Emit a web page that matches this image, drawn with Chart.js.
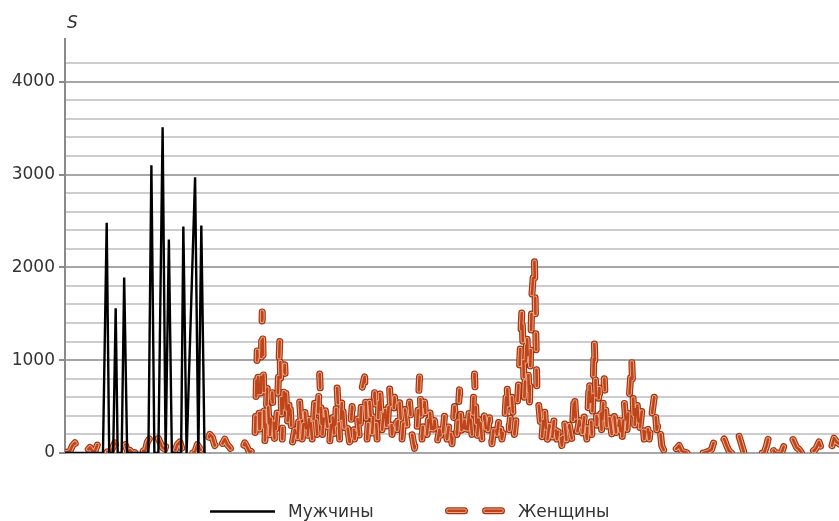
<!DOCTYPE html>
<html>
<head>
<meta charset="utf-8">
<script src="https://cdn.jsdelivr.net/npm/chart.js@4/dist/chart.umd.min.js"></script>
<style>
  html, body { margin: 0; padding: 0; background: #fff; }
  #wrap { position: relative; width: 839px; height: 521px; }
</style>
</head>
<body>
<div id="wrap"><canvas id="c" width="839" height="521"></canvas></div>
<script>
// Series names and axis text
const seriesNames = ['Мужчины', 'Женщины'];
const axisTitle = 'S';
const yTickLabels = [0, 1000, 2000, 3000, 4000];

// Men: sample positions and values
const menX = [0, 15.2, 16.7, 17.7, 19.3, 20.3, 21.1, 22.7, 23.7, 24.9,
              33.4, 34.6, 35.8, 37.4, 39.1, 40.3, 41.6, 42.8, 46.5, 47.4,
              48.7, 52.1, 53.4, 54.6, 55.9];
const menY = [0, 0, 2480, 0, 0, 1560, 0, 0, 1890, 0,
              0, 3100, 0, 0, 3510, 0, 2300, 0, 0, 2440,
              0, 2970, 0, 2450, 0];

// Women: one value per sample position 0, 1, 2, ...
const womenY = [
  0, 10, 20, 80, 110, 40, 10, 0, 0, 30,
  60, 20, 20, 90, 140, 60, 30, 10, 0, 50,
  110, 40, 10, 70, 100, 20, 30, 0, 0, 60,
  110, 30, 10, 120, 160, 90, 150, 180, 120, 60,
  40, 130, 100, 50, 20, 90, 120, 30, 10, 70,
  40, 0, 10, 90, 50, 10, 20, 120, 200, 170,
  80, 120, 30, 100, 150, 90, 60, 20, 20, 10,
  0, 40, 110, 60, 0, 30, 80, 1100, 150, 1520,
  100, 700, 150, 650, 100, 450, 1200, 150, 950, 300,
  600, 100, 250, 80, 550, 150, 480, 120, 450, 150,
  550, 200, 850, 150, 520, 300, 100, 450, 150, 700,
  150, 600, 200, 300, 120, 500, 150, 400, 150, 700,
  820, 150, 550, 200, 650, 150, 700, 250, 550, 200,
  700, 200, 600, 250, 550, 150, 500, 300, 550, 200,
  50, 250, 820, 150, 550, 200, 500, 150, 350, 100,
  250, 100, 400, 150, 350, 100, 500, 200, 680, 150,
  350, 150, 500, 200, 850, 150, 450, 150, 400, 150,
  380, 100, 350, 200, 400, 150, 300, 750, 250, 600,
  200, 450, 900, 1550, 600, 1300, 500, 1700, 2080, 700,
  450, 150, 500, 100, 300, 120, 400, 150, 300, 80,
  350, 100, 300, 150, 650, 200, 350, 150, 400, 150,
  800, 200, 1200, 300, 700, 200, 800, 250, 400, 200,
  400, 150, 350, 100, 550, 200, 600, 1000, 250, 600,
  200, 450, 150, 350, 150, 400, 600, 250, 350, 80,
  20, 60, 90, 40, 30, 50, 80, 20, 10, 0,
  20, 40, 60, 30, 10, 0, 0, 10, 20, 40,
  130, 90, 60, 120, 150, 80, 20, 0, 10, 60,
  180, 90, 0, 0, 10, 10, 5, 0, 10, 0,
  0, 80, 190, 100, 10, 0, 0, 0, 80, 150,
  200, 180, 120, 60, 40, 0, 0, 30, 90, 50,
  20, 60, 120, 40, 10, 0, 0, 60, 160, 120,
  100
];

const FONT = '"DejaVu Sans", sans-serif';
const TEXT = '#333333';
const MAJOR_GRID = '#a6a6a6';
const MINOR_GRID = '#cdcdd1';

// Tube-like dashed stroke: dark outline, light ring, darker core
const tubeLayers = [
  { width: 7, color: '#a8340e' },
  { width: 4.6, color: '#e9a888' },
  { width: 2.6, color: '#c0441a' }
];
const tubeDash = [16, 20];

const menPoints = menX.map((x, i) => ({ x, y: menY[i] }));
const womenPoints = womenY.map((y, i) => ({ x: i, y }));

const datasets = [{
  label: seriesNames[0],
  data: menPoints,
  borderColor: '#000000',
  borderWidth: 2.4,
  pointRadius: 0,
  tension: 0,
  order: 0
}];
tubeLayers.forEach((layer, k) => {
  datasets.push({
    label: seriesNames[1],
    data: womenPoints,
    borderColor: layer.color,
    borderWidth: layer.width,
    borderDash: tubeDash,
    borderCapStyle: 'round',
    borderJoinStyle: 'round',
    pointRadius: 0,
    tension: 0,
    order: tubeLayers.length - k
  });
});

function drawTube(ctx, x1, y, x2) {
  tubeLayers.forEach(layer => {
    ctx.beginPath();
    ctx.lineCap = 'round';
    ctx.lineWidth = layer.width;
    ctx.strokeStyle = layer.color;
    ctx.moveTo(x1, y);
    ctx.lineTo(x2, y);
    ctx.stroke();
  });
}

// Axis title and legend drawn onto the canvas
const decorations = {
  id: 'decorations',
  afterDraw(chart) {
    const ctx = chart.ctx;
    const area = chart.chartArea;
    ctx.save();
    ctx.fillStyle = TEXT;
    ctx.font = 'italic 17px ' + FONT;
    ctx.textBaseline = 'alphabetic';
    ctx.textAlign = 'left';
    ctx.fillText(axisTitle, area.left + 2, 28);

    const ly = 511.5;
    const base = 517;
    ctx.font = '17px ' + FONT;
    // Men entry
    ctx.beginPath();
    ctx.lineWidth = 2.4;
    ctx.strokeStyle = '#000';
    ctx.lineCap = 'butt';
    ctx.moveTo(210, ly);
    ctx.lineTo(275, ly);
    ctx.stroke();
    ctx.fillText(seriesNames[0], 288, base);
    // Women entry
    drawTube(ctx, 448.5, ly - 0.8, 464.5);
    drawTube(ctx, 485.5, ly - 0.8, 501.5);
    ctx.fillStyle = TEXT;
    ctx.fillText(seriesNames[1], 518, base);
    ctx.restore();
  }
};

new Chart(document.getElementById('c'), {
  type: 'line',
  data: { datasets },
  options: {
    responsive: false,
    devicePixelRatio: 1,
    animation: false,
    events: [],
    layout: { padding: { top: 39, bottom: 68, left: 0, right: 0 } },
    plugins: {
      legend: { display: false },
      tooltip: { enabled: false }
    },
    scales: {
      x: {
        type: 'linear',
        min: 0,
        max: 310,
        display: false
      },
      y: {
        type: 'linear',
        min: 0,
        max: 4460,
        afterFit(scale) { scale.width = 65; },
        afterBuildTicks(scale) {
          scale.ticks = scale.ticks.filter(t => t.value % 200 === 0);
        },
        ticks: {
          stepSize: 200,
          autoSkip: false,
          padding: 4,
          color: TEXT,
          font: { family: FONT, size: 17 },
          callback: v => (yTickLabels.includes(v) ? String(v) : '')
        },
        grid: {
          lineWidth: 2,
          color: c => (c.tick && c.tick.value % 1000 === 0 ? MAJOR_GRID : MINOR_GRID),
          tickLength: 6,
          tickWidth: 2,
          tickColor: c => (c.tick && c.tick.value % 1000 === 0 ? '#8a8a8a' : 'rgba(0,0,0,0)')
        },
        border: { display: true, color: '#8a8a8a', width: 2 }
      }
    }
  },
  plugins: [decorations]
});
</script>
</body>
</html>
